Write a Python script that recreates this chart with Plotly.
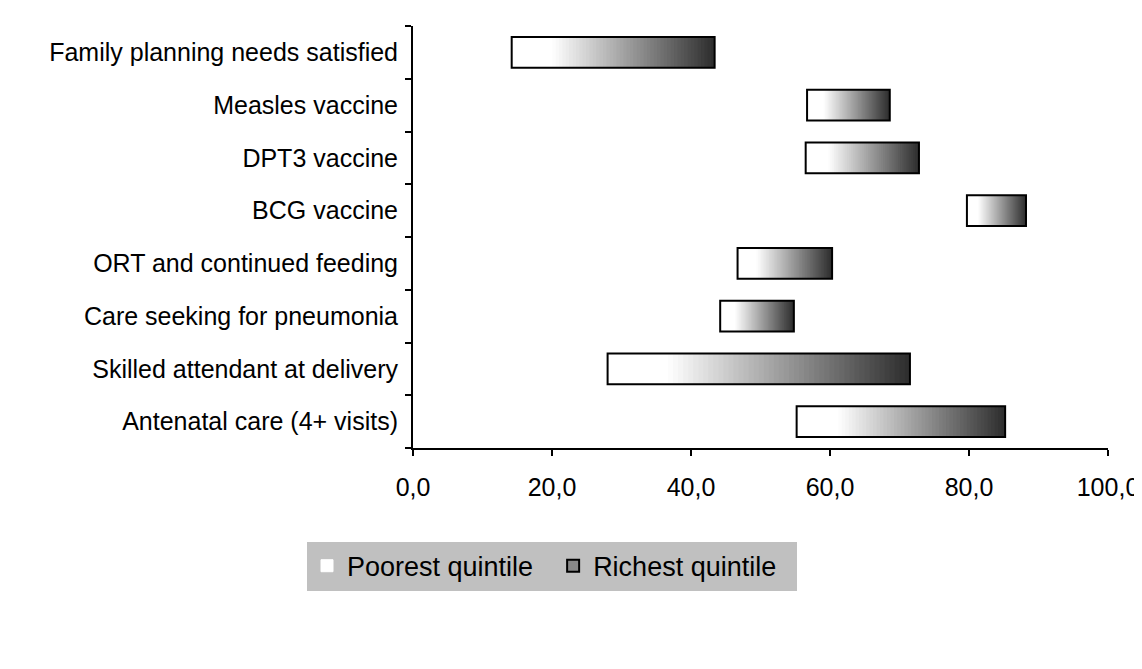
import numpy as np
import plotly.graph_objects as go

categories = ["Antenatal care (4+ visits)", "Skilled attendant at delivery",
              "Care seeking for pneumonia", "ORT and continued feeding",
              "BCG vaccine", "DPT3 vaccine", "Measles vaccine",
              "Family planning needs satisfied"]
poorest = [55.2, 28.0, 44.2, 46.7, 79.7, 56.5, 56.7, 14.2]
richest = [85.2, 71.5, 54.8, 60.3, 88.2, 72.8, 68.6, 43.4]

low = np.array(poorest)
high = np.array(richest)
n_seg = 60

fig = go.Figure()

# gradient fill: many thin overlapping segments from white to dark grey
seg = (high - low) / n_seg
for i in range(n_seg):
    t = (i + 0.5) / n_seg
    g = 255 if t < 0.2 else int(255 - (255 - 45) * ((t - 0.2) / 0.8))
    fig.add_trace(go.Bar(
        y=categories, x=seg * (2.0 if i < n_seg - 1 else 1.0), base=low + seg * i,
        orientation="h",
        marker=dict(color=f"rgb({g},{g},{g})", line=dict(width=0)),
        width=0.58, showlegend=False, hoverinfo="skip"))

# outline
fig.add_trace(go.Bar(
    y=categories, x=high - low, base=low, orientation="h",
    marker=dict(color="rgba(0,0,0,0)", line=dict(color="black", width=2)),
    width=0.58, showlegend=False))

# legend entries
fig.add_trace(go.Bar(y=[None], x=[None], name="Poorest quintile  ",
                     marker=dict(color="white", line=dict(color="white", width=1))))
fig.add_trace(go.Bar(y=[None], x=[None], name="Richest quintile  ",
                     marker=dict(color="#888888", line=dict(color="black", width=2))))

fig.update_layout(
    width=1142, height=669,
    barmode="overlay",
    separators=",.",
    plot_bgcolor="white", paper_bgcolor="white",
    font=dict(family="Liberation Sans, Arial", size=25, color="black"),
    margin=dict(l=405, r=42, t=18, b=229),
    legend=dict(orientation="h", x=0.2, xref="paper", xanchor="center",
                y=-0.28, yanchor="middle", bgcolor="#c0c0c0",
                font=dict(size=27), itemwidth=30),
    xaxis=dict(range=[0, 100], tickvals=[0, 20, 40, 60, 80, 100],
               tickformat=".1f", showgrid=False, zeroline=False,
               showline=True, linecolor="black", linewidth=2,
               ticks="outside", ticklen=6, tickwidth=2, tickcolor="black",
               ticklabelstandoff=10),
    yaxis=dict(type="category", categoryorder="array", categoryarray=categories,
               range=[-0.5, 7.5], tickson="boundaries", showgrid=False,
               showline=True, linecolor="black", linewidth=2,
               ticks="outside", ticklen=6, tickwidth=2, tickcolor="black",
               ticklabelstandoff=8),
)

fig.write_html("out.html")
